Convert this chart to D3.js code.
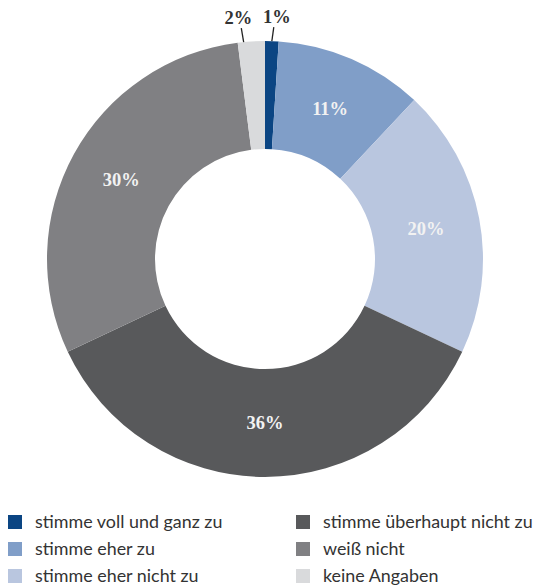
<!DOCTYPE html>
<meta charset="utf-8">
<style>
body { margin: 0; background: #fff; }
.pct { font-family: "Liberation Serif", serif; font-weight: bold; font-size: 18.5px; }
.legend text { font-family: Lato, "Noto Sans", sans-serif; font-size: 17.9px; fill: #333; }
</style>
<body>
<script src="https://d3js.org/d3.v7.min.js"></script>
<script>

// data
var categories = ["stimme voll und ganz zu", "stimme eher zu", "stimme eher nicht zu",
                  "stimme überhaupt nicht zu", "weiß nicht", "keine Angaben"];
var values = [1, 11, 20, 36, 30, 2];
var labels = ["1%", "11%", "20%", "36%", "30%", "2%"];
var colors = ["#0b4583", "#809ec8", "#b9c6df", "#58595b", "#808083", "#d9dadc"];

var width = 541, height = 586;
var cx = 265, cy = 259, outerR = 218, innerR = 110;

var svg = d3.select("body").append("svg")
    .attr("width", width)
    .attr("height", height);

var pie = d3.pie().sort(null).value(function(d) { return d; });
var arcs = pie(values);

var arc = d3.arc().innerRadius(innerR).outerRadius(outerR);

var g = svg.append("g")
    .attr("transform", "translate(" + cx + "," + cy + ")");

g.selectAll("path")
    .data(arcs)
  .enter().append("path")
    .attr("d", arc)
    .attr("fill", function(d, i) { return colors[i]; });

// small slices get outside labels with a leader line
var leaderAt = [0.5, 0.5, 0.5, 0.5, 0.5, 0.22];
arcs.forEach(function(d, i) {
  var frac = d.endAngle - d.startAngle;
  if (values[i] <= 2) {
    var a = d.startAngle + frac * leaderAt[i];
    var p1 = [Math.sin(a) * outerR, -Math.cos(a) * outerR];
    var p2 = [Math.sin(a) * (outerR + 14) + (i === 0 ? 1.5 : -1), -Math.cos(a) * (outerR + 14)];
    g.append("line")
      .attr("x1", p1[0]).attr("y1", p1[1])
      .attr("x2", p2[0]).attr("y2", p2[1])
      .attr("stroke", "#222").attr("stroke-width", 1.3);
    g.append("text")
      .attr("class", "pct")
      .attr("x", p2[0] + (i === 0 ? 3 : -3))
      .attr("y", p2[1] - 4)
      .attr("text-anchor", "middle")
      .attr("fill", "#333")
      .text(labels[i]);
  } else {
    var c = arc.centroid(d);
    g.append("text")
      .attr("class", "pct")
      .attr("x", c[0])
      .attr("y", c[1])
      .attr("dy", "0.35em")
      .attr("text-anchor", "middle")
      .attr("fill", "#f2f2f2")
      .text(labels[i]);
  }
});

// legend, 2 columns x 3 rows
var legend = svg.append("g").attr("class", "legend");
var colX = [8, 296], rowY = [522, 549, 576];
categories.forEach(function(name, i) {
  var col = Math.floor(i / 3), row = i % 3;
  var item = legend.append("g")
    .attr("transform", "translate(" + colX[col] + "," + rowY[row] + ")");
  item.append("rect")
    .attr("x", 0).attr("y", -7)
    .attr("width", 14).attr("height", 14)
    .attr("fill", colors[i]);
  item.append("text")
    .attr("x", 27)
    .attr("y", 0)
    .attr("dy", "0.35em")
    .text(name);
});

</script>
</body>
